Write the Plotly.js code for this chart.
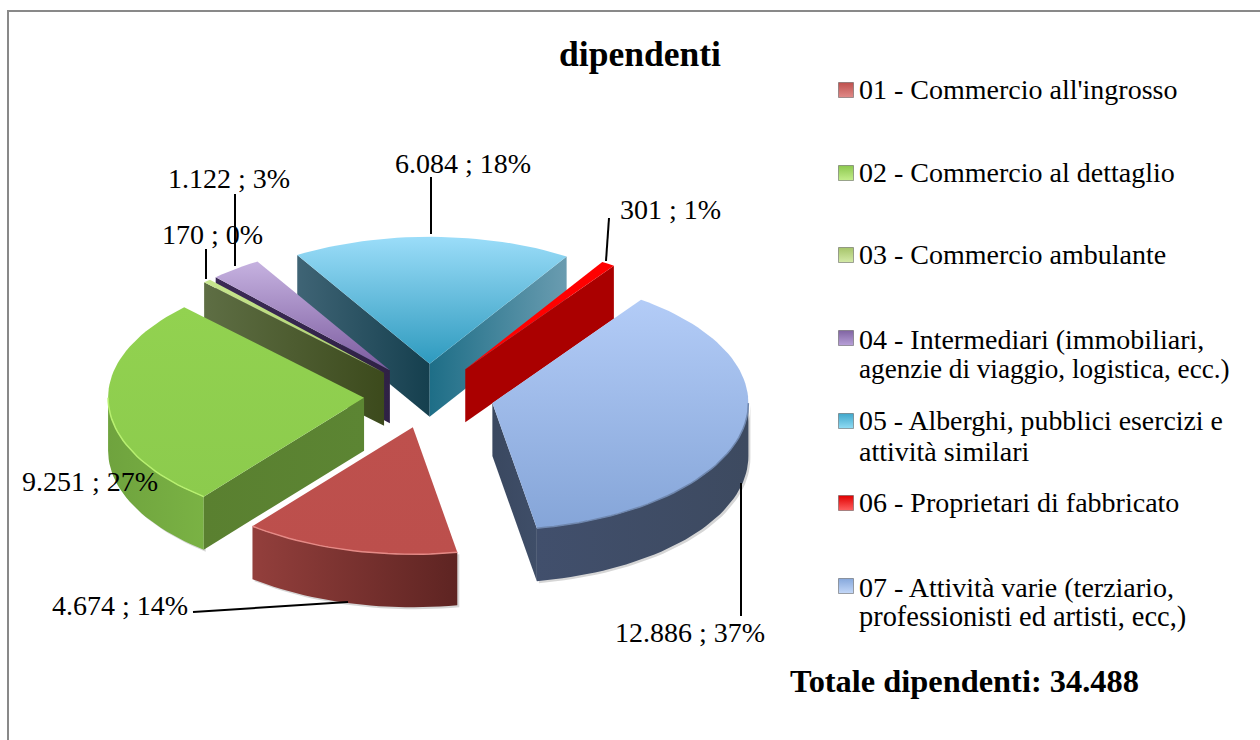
<!DOCTYPE html>
<html><head><meta charset="utf-8">
<script src="https://cdn.plot.ly/plotly-3.0.1.min.js"></script>
<style>html,body{margin:0;padding:0;background:#fff}#c{width:1260px;height:740px}</style>
</head><body><div id="c"></div>
<script>
const categories = ["01 - Commercio all'ingrosso","02 - Commercio al dettaglio","03 - Commercio ambulante",
  "04 - Intermediari (immobiliari,|agenzie di viaggio, logistica, ecc.)","05 - Alberghi, pubblici esercizi e|attività similari",
  "06 - Proprietari di fabbricato","07 - Attività varie (terziario,|professionisti ed artisti, ecc,)"];
const values = [4674, 9251, 170, 1122, 6084, 301, 12886];
const totalLabel = "Totale dipendenti: 34.488";
const chartTitle = "dipendenti";

// styles: first colour = bottom (vertical) or left (horizontal)
const topColors  = [['#BC4F4C','#BE504D'],['#8CCB4D','#92D250'],['#A9CC6A','#C8E78F'],['#7A5A9E','#C6B2E0'],['#2E9ABE','#9BDDF9'],['#FF0000','#FF0000'],['#85A5D8','#B3CCF7']];
const rimColors  = [['#933F3C','#5E2422'],['#6FA33E','#7AB244'],['#5D6B40','#5D6B40'],['#5A4478','#4A3768'],['#2F7F99','#2F7F99'],['#AA0000','#AA0000'],['#414F6C','#3D4A60']];
const startWall  = [null,['#5A8030','#5C8533'],['#5E6E44','#3C4A1C'],['#3B2A55','#2F2145'],['#3F6475','#153F4E'],null,null];
const endWall    = [null,null,null,null,['#1E6E87','#6A9CB0'],['#AA0000','#AA0000'],['#3A4860','#3F4E68']];
const edgeColors = ['#E58A86','#B8F070',null,null,null,null,'#6F87AE'];
const swatch     = ['#BE504D','#8CC84E','#A6C46A','#8064A2','#3FA7CB','#E00000','#86A8DC'];
const swatchHi   = ['#E08A88','#C4EE8C','#D4EAA8','#B8A0D8','#90DCF4','#FF6060','#C4D8F8'];
const paint = [4,5,3,2,1,6,0];     // back-to-front order
const labelXY = [[120,605],[90,481],[212,234],[229,178],[463,163],[670,209],[690,632]];
const leaders = [[193,612,348,602],[206,249,206,279],[235,194,235,266],[431,177,431,234],[609,218,606,261],[741,483,741,616]];
const legendY = [90,173,255,338,421,503,586];
const legendTextY = [[89],[172],[254],[339,369],[420,451],[502],[587,617]];
const legendSize = [[28],[28],[28],[28,27.2],[27.8,28],[28],[28,28.4]];

const cx=429, cy=396, rx=256, ry=127, depth=53, pull=65, a0=170;
const font='"Liberation Serif", serif';
const total = values.reduce((a,b)=>a+b,0);
const rad = d=>d*Math.PI/180;
const px=(o,a)=>o.x+rx*Math.sin(rad(a)), py=(o,a)=>o.y-ry*Math.cos(rad(a));
const fmt = v=>String(v).replace(/\B(?=(\d{3})+$)/g,'.');

const traces=[];
function poly(xs,ys,cols,type,name){
  traces.push({type:'scatter',mode:'lines',x:xs,y:ys,fill:'toself',name,showlegend:false,hoverinfo:'skip',
    line:{width:0},fillcolor:cols[0],
    fillgradient:{type,colorscale:[[0,cols[0]],[1,cols[1]]]}});
}
function arc(o,a,b,dy){const X=[],Y=[];const n=Math.max(2,Math.ceil(Math.abs(b-a)/2));
  for(let i=0;i<=n;i++){const t=a+(b-a)*i/n;X.push(px(o,t));Y.push(py(o,t)+dy);}return [X,Y];}

let acc=a0; const slices=values.map(v=>{let s=acc,e=acc+v/total*360;acc=e;
  if(s>=360){s-=360;e-=360;}
  const m=rad((s+e)/2);return {s,e,o:{x:cx+pull*Math.sin(m),y:cy-pull*ry/rx*Math.cos(m)}};});

paint.forEach(i=>{
  const {s,e,o}=slices[i], nm=categories[i];
  const r0=Math.max(s,90), r1=Math.min(e,270), hasRim=r1>r0;
  let rimX,rimY;
  if(hasRim){
    const [X1,Y1]=arc(o,r0,r1,0), [X2,Y2]=arc(o,r1,r0,depth);
    rimX=X1.concat(X2,[X1[0]]); rimY=Y1.concat(Y2,[Y1[0]]);
    // soft drop shadow under the outer wall
    traces.push({type:'scatter',mode:'lines',x:rimX.map(v=>v+2),y:rimY.map(v=>v+2),fill:'toself',showlegend:false,hoverinfo:'skip',
      line:{width:0},fillcolor:'rgba(0,0,0,0.16)'});
  }
  const wall=(a,c)=>{ if(!c) return;
    poly([o.x,px(o,a),px(o,a),o.x,o.x],[o.y,py(o,a),py(o,a)+depth,o.y+depth,o.y],c,'horizontal',nm);};
  wall(s,startWall[i]); wall(e,endWall[i]);
  if(hasRim) poly(rimX,rimY,rimColors[i],'horizontal',nm);
  const [X,Y]=arc(o,s,e,0);
  poly([o.x].concat(X,[o.x]),[o.y].concat(Y,[o.y]),topColors[i],'vertical',nm);
  if(hasRim && edgeColors[i]){
    const [EX,EY]=arc(o,r0,r1,0);
    traces.push({type:'scatter',mode:'lines',x:EX,y:EY,showlegend:false,hoverinfo:'skip',line:{width:1.5,color:edgeColors[i]}});
  }
});

// legend swatches
traces.push({type:'scatter',mode:'markers',x:legendY.map(()=>846),y:legendY,showlegend:false,
  text:categories,hoverinfo:'text',
  marker:{symbol:'square',size:15,color:swatch,gradient:{type:'vertical',color:swatchHi},line:{width:1,color:'rgba(80,80,80,0.5)'}}});

const ann=[];
values.forEach((v,i)=>ann.push({x:labelXY[i][0],y:labelXY[i][1],xref:'x',yref:'y',showarrow:false,xanchor:'center',yanchor:'middle',
  text:fmt(v)+' ; '+Math.round(v/total*100)+'%',font:{family:font,size:28,color:'#000'}}));
categories.forEach((c,i)=>c.split('|').forEach((t,j)=>ann.push({x:857,y:legendTextY[i][j],xref:'x',yref:'y',showarrow:false,xanchor:'left',yanchor:'middle',align:'left',
  text:t,font:{family:font,size:legendSize[i][j],color:'#000'}})));
ann.push({x:964,y:681,xref:'x',yref:'y',showarrow:false,xanchor:'center',yanchor:'middle',text:'<b>'+totalLabel+'</b>',font:{family:font,size:32.4,color:'#000'}});

const shapes=leaders.map(l=>({type:'line',xref:'x',yref:'y',x0:l[0],y0:l[1],x1:l[2],y1:l[3],line:{color:'#000',width:2}}));
shapes.push({type:'line',xref:'x',yref:'y',x0:8,y0:11,x1:1260,y1:11,line:{color:'#898989',width:2}});
shapes.push({type:'line',xref:'x',yref:'y',x0:8,y0:10,x1:8,y1:740,line:{color:'#898989',width:2}});

Plotly.newPlot('c',traces,{
  width:1260,height:740,margin:{l:0,r:0,t:0,b:0},paper_bgcolor:'#fff',plot_bgcolor:'#fff',
  title:{text:'<b>'+chartTitle+'</b>',x:640/1260,xanchor:'center',y:1-54/740,yanchor:'middle',font:{family:font,size:35.5,color:'#000'}},
  xaxis:{range:[0,1260],visible:false,fixedrange:true},
  yaxis:{range:[740,0],visible:false,fixedrange:true},
  annotations:ann,shapes,showlegend:false
},{displayModeBar:false,staticPlot:true});
</script></body></html>
